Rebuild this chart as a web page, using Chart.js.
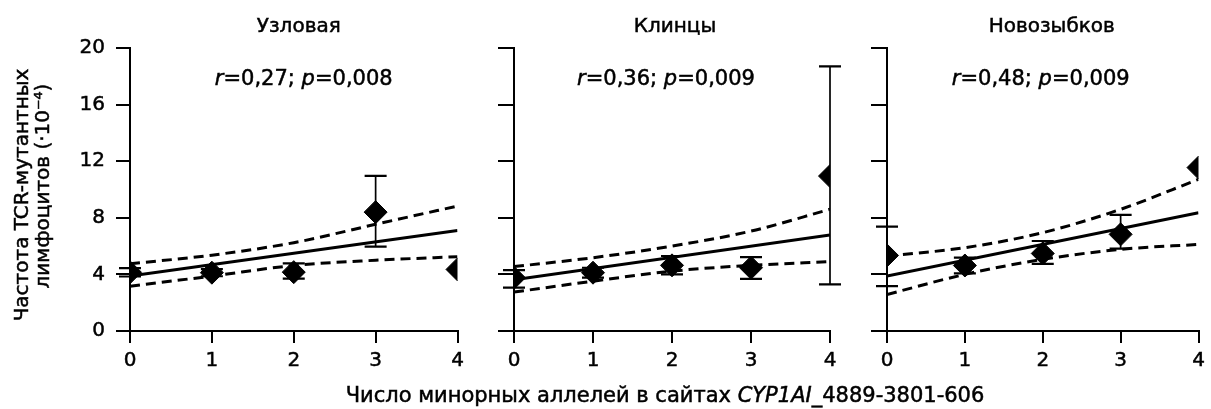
<!DOCTYPE html>
<html>
<head>
<meta charset="utf-8">
<script src="https://cdn.jsdelivr.net/npm/chart.js@4/dist/chart.umd.min.js"></script>
<style>
  html, body { margin: 0; padding: 0; background: #fff; }
  #wrap { position: relative; width: 1211px; height: 409px; overflow: hidden; background: #fff; }
  canvas { position: absolute; top: 0; }
  #xtitle { position: absolute; top: 383px; left: 665px; transform: translateX(-50%);
            font-family: 'DejaVu Sans', sans-serif; font-size: 21px; line-height: 24px; white-space: nowrap; color: #000;
            -webkit-text-stroke: 0.5px #000; }
</style>
</head>
<body>
<div id="wrap">
  <canvas id="c1" width="470" height="409" style="left:0px"></canvas>
  <canvas id="c2" width="375" height="409" style="left:470px"></canvas>
  <canvas id="c3" width="366" height="409" style="left:845px"></canvas>
  <div id="xtitle">Число минорных аллелей в сайтах <i>CYP1AI</i>_4889-3801-606</div>
</div>
<script>
// ---------- data ----------
const alleles = [0, 1, 2, 3, 4];
const yTickLabels = [0, 4, 8, 12, 16, 20];
const panelTitles = ['Узловая', 'Клинцы', 'Новозыбков'];
const rValues = ['0,27', '0,36', '0,48'];
const pValues = ['0,008', '0,009', '0,009'];
const yTitleLines = ['Частота TCR-мутантных', 'лимфоцитов (·10⁻⁴)'];

// Узловая
const uzlMean      = [4.15, 4.12, 4.16, 8.40, 4.35];
const uzlErrPlus   = [0.30, 0.25, 0.62, 2.56, 0];
const uzlErrMinus  = [0.30, 0.25, 0.46, 2.44, 0];
const uzlRegr      = [3.88, 7.10];          // fitted line at 0 and 4 alleles
const uzlUpper     = [4.75, 5.36, 6.24, 7.54, 8.83];
const uzlLower     = [3.17, 3.88, 4.63, 5.00, 5.25];

// Клинцы
const kliMean      = [3.76, 4.12, 4.64, 4.47, 10.95];
const kliErrPlus   = [0.54, 0.35, 0.66, 0.75, 7.75];
const kliErrMinus  = [0.70, 0.35, 0.64, 0.78, 7.65];
const kliRegr      = [3.62, 6.78];
const kliUpper     = [4.55, 5.18, 6.00, 7.06, 8.60];
const kliLower     = [2.75, 3.52, 4.23, 4.64, 4.90];

// Новозыбков
const novMean      = [5.34, 4.63, 5.48, 6.83, 11.55];
const novErrPlus   = [2.03, 0.55, 0.88, 1.37, 0];
const novErrMinus  = [2.17, 0.56, 0.73, 1.01, 0];
const novRegr      = [3.88, 8.36];
const novUpper     = [5.30, 5.89, 6.95, 8.60, 10.72];
const novLower     = [2.58, 4.00, 5.06, 5.77, 6.12];

// ---------- drawing ----------
const FONT = "'DejaVu Sans', sans-serif";
Chart.defaults.font.family = FONT;
Chart.defaults.color = '#000';
const STROKE = 0.5;

const errorBarPlugin = {
  id: 'errorBars',
  afterDatasetsDraw(chart, args, opts) {
    const { ctx, scales: { x, y } } = chart;
    ctx.save();
    ctx.strokeStyle = '#000';
    opts.mean.forEach((m, i) => {
      const up = opts.plus[i], dn = opts.minus[i];
      if (!up && !dn) return;
      const px = x.getPixelForValue(alleles[i]);
      const yt = y.getPixelForValue(m + up);
      const yb = y.getPixelForValue(m - dn);
      ctx.lineWidth = 1.7;
      ctx.beginPath(); ctx.moveTo(px, yt); ctx.lineTo(px, yb); ctx.stroke();
      ctx.lineWidth = 2.2;
      ctx.beginPath();
      ctx.moveTo(px - 11, yt); ctx.lineTo(px + 11, yt);
      ctx.moveTo(px - 11, yb); ctx.lineTo(px + 11, yb);
      ctx.stroke();
    });
    ctx.restore();
  }
};

function boldText(ctx, t, x, y) {
  ctx.fillText(t, x, y);
  ctx.lineWidth = STROKE;
  ctx.strokeText(t, x, y);
}

const textPlugin = {
  id: 'panelTexts',
  afterDraw(chart, args, opts) {
    const { ctx, chartArea } = chart;
    const cx = (chartArea.left + chartArea.right) / 2;
    ctx.save();
    ctx.fillStyle = '#000';
    ctx.strokeStyle = '#000';
    ctx.textBaseline = 'alphabetic';
    // panel title
    ctx.font = `20px ${FONT}`;
    ctx.textAlign = 'center';
    boldText(ctx, opts.title, cx + opts.titleDx, 32);
    // r / p annotation
    const parts = [
      { t: 'r', it: true }, { t: '=' + opts.r + '; ', it: false },
      { t: 'p', it: true }, { t: '=' + opts.p, it: false }
    ];
    const fN = `21px ${FONT}`, fI = `italic 21px ${FONT}`;
    let total = 0;
    parts.forEach(pt => { ctx.font = pt.it ? fI : fN; pt.w = ctx.measureText(pt.t).width; total += pt.w; });
    let xx = cx + opts.annDx - total / 2;
    ctx.textAlign = 'left';
    parts.forEach(pt => { ctx.font = pt.it ? fI : fN; boldText(ctx, pt.t, xx, 85); xx += pt.w; });
    // y-axis title
    if (opts.yTitle) {
      ctx.font = `20px ${FONT}`;
      ctx.textAlign = 'center';
      const pos = [[28, 195], [49, 186]];
      opts.yTitle.forEach((line, i) => {
        ctx.save();
        ctx.translate(pos[i][0], pos[i][1]);
        ctx.rotate(-Math.PI / 2);
        boldText(ctx, line, 0, 0);
        ctx.restore();
      });
    }
    ctx.restore();
  }
};

function pts(vals) { return alleles.map((a, i) => ({ x: a, y: vals[i] })); }

function makePanel(id, d) {
  const last = alleles.length - 1;
  return new Chart(document.getElementById(id), {
    type: 'line',
    data: {
      datasets: [
        { data: pts(d.upper), borderColor: '#000', borderWidth: 3, borderDash: [10, 6],
          pointRadius: 0, cubicInterpolationMode: 'monotone', fill: false },
        { data: pts(d.lower), borderColor: '#000', borderWidth: 3, borderDash: [10, 6],
          pointRadius: 0, cubicInterpolationMode: 'monotone', fill: false },
        { data: [{ x: alleles[0], y: d.regr[0] }, { x: alleles[last], y: d.regr[1] }],
          borderColor: '#000', borderWidth: 3, pointRadius: 0, fill: false },
        { data: pts(d.mean), showLine: false, pointStyle: 'rectRot', pointRadius: 11.5,
          pointBackgroundColor: '#000', pointBorderColor: '#000', pointBorderWidth: 1 }
      ]
    },
    options: {
      responsive: false, animation: false, devicePixelRatio: 1,
      layout: { padding: { left: d.padLeft, right: d.padRight, top: 48, bottom: 33 } },
      plugins: {
        legend: { display: false }, tooltip: { enabled: false },
        errorBars: { mean: d.mean, plus: d.plus, minus: d.minus },
        panelTexts: { title: d.title, titleDx: d.titleDx, r: d.r, p: d.p, annDx: d.annDx, yTitle: d.yTitle }
      },
      scales: {
        x: {
          type: 'linear', min: alleles[0], max: alleles[last],
          afterBuildTicks: s => { s.ticks = alleles.map(v => ({ value: v })); },
          ticks: { font: { size: 20 }, color: '#000', padding: 6, textStrokeColor: '#000', textStrokeWidth: STROKE },
          grid: { drawOnChartArea: false, drawTicks: true, tickLength: 12, color: '#000', lineWidth: 2 },
          border: { display: true, color: '#000', width: 2 },
          afterFit: s => { s.height = 45; }
        },
        y: {
          type: 'linear', min: yTickLabels[0], max: yTickLabels[yTickLabels.length - 1],
          afterBuildTicks: s => { s.ticks = yTickLabels.map(v => ({ value: v })); },
          ticks: { display: d.showYLabels, font: { size: 20 }, color: '#000', padding: 11, textStrokeColor: '#000', textStrokeWidth: STROKE },
          grid: { drawOnChartArea: false, drawTicks: true, tickLength: d.yTick, color: '#000', lineWidth: 2 },
          border: { display: true, color: '#000', width: 2 },
          afterFit: s => { s.width = d.yWidth; }
        }
      }
    },
    plugins: [errorBarPlugin, textPlugin]
  });
}

makePanel('c1', { mean: uzlMean, plus: uzlErrPlus, minus: uzlErrMinus, regr: uzlRegr, upper: uzlUpper, lower: uzlLower,
  title: panelTitles[0], titleDx: 5, r: rValues[0], p: pValues[0], annDx: 10, yTitle: yTitleLines,
  padLeft: 70, yWidth: 60, padRight: 12, showYLabels: true, yTick: 14 });
makePanel('c2', { mean: kliMean, plus: kliErrPlus, minus: kliErrMinus, regr: kliRegr, upper: kliUpper, lower: kliLower,
  title: panelTitles[1], titleDx: 3, r: rValues[1], p: pValues[1], annDx: -6, yTitle: null,
  padLeft: 14, yWidth: 30, padRight: 15, showYLabels: false, yTick: 16 });
makePanel('c3', { mean: novMean, plus: novErrPlus, minus: novErrMinus, regr: novRegr, upper: novUpper, lower: novLower,
  title: panelTitles[2], titleDx: 9, r: rValues[2], p: pValues[2], annDx: -2, yTitle: null,
  padLeft: 12, yWidth: 30, padRight: 8, showYLabels: false, yTick: 16 });
</script>
</body>
</html>
